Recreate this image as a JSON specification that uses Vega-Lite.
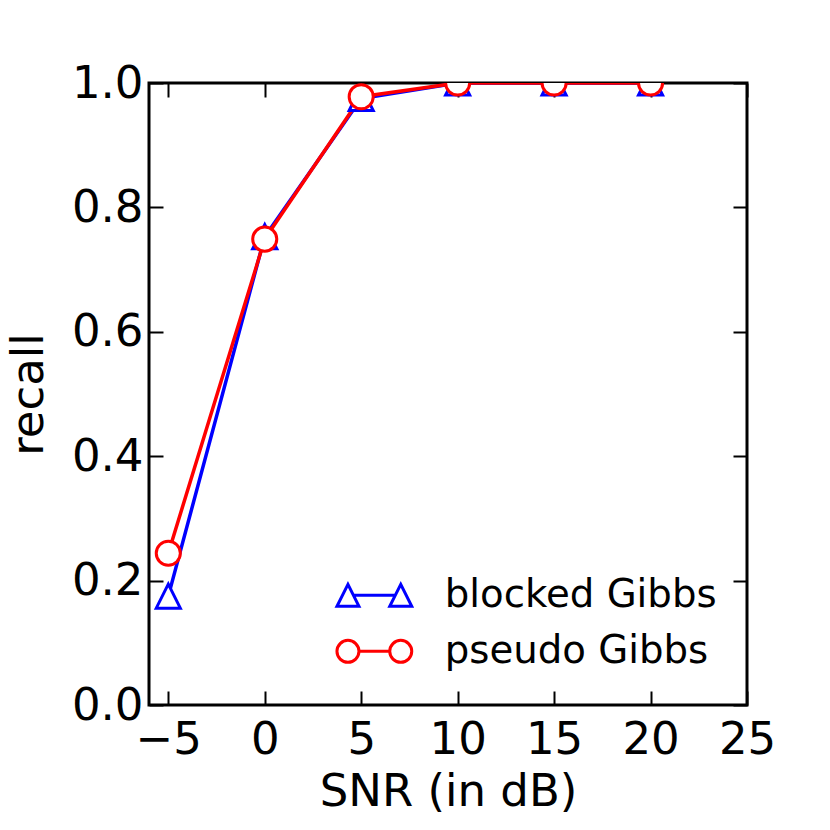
{
  "$schema": "https://vega.github.io/schema/vega-lite/v6.json",
  "description": "Recall against SNR for blocked Gibbs and pseudo Gibbs samplers.",
  "background": "white",
  "autosize": "none",
  "padding": {"left": 149, "top": 83, "right": 83, "bottom": 125},
  "width": 598,
  "height": 622,
  "config": {
    "font": "DejaVu Sans",
    "view": {"stroke": "black", "strokeWidth": 3},
    "axis": {
      "grid": false,
      "domain": false,
      "tickColor": "black",
      "tickWidth": 2,
      "tickSize": -14,
      "labelFont": "DejaVu Sans",
      "labelFontSize": 45,
      "labelColor": "black",
      "titleFont": "DejaVu Sans",
      "titleFontSize": 45,
      "titleFontWeight": "normal",
      "titleColor": "black"
    }
  },
  "data": {
    "values": [
      {"snr": -5, "recall": 0.175, "method": "blocked Gibbs"},
      {"snr": 0, "recall": 0.753, "method": "blocked Gibbs"},
      {"snr": 5, "recall": 0.975, "method": "blocked Gibbs"},
      {"snr": 10, "recall": 1.0, "method": "blocked Gibbs"},
      {"snr": 15, "recall": 1.0, "method": "blocked Gibbs"},
      {"snr": 20, "recall": 1.0, "method": "blocked Gibbs"},
      {"snr": -5, "recall": 0.244, "method": "pseudo Gibbs"},
      {"snr": 0, "recall": 0.749, "method": "pseudo Gibbs"},
      {"snr": 5, "recall": 0.978, "method": "pseudo Gibbs"},
      {"snr": 10, "recall": 1.0, "method": "pseudo Gibbs"},
      {"snr": 15, "recall": 1.0, "method": "pseudo Gibbs"},
      {"snr": 20, "recall": 1.0, "method": "pseudo Gibbs"}
    ]
  },
  "layer": [
    {
      "encoding": {
        "x": {
          "field": "snr",
          "type": "quantitative",
          "title": "SNR (in dB)",
          "scale": {"domain": [-6, 25], "nice": false, "zero": false},
          "axis": {"values": [-5, 0, 5, 10, 15, 20, 25], "labelPadding": 26, "titlePadding": 7, "labelFlush": false}
        },
        "y": {
          "field": "recall",
          "type": "quantitative",
          "title": "recall",
          "scale": {"domain": [0, 1], "nice": false},
          "axis": {"values": [0, 0.2, 0.4, 0.6, 0.8, 1.0], "format": ".1f", "labelPadding": 20, "titlePadding": 20, "labelFlush": false}
        },
        "color": {
          "field": "method",
          "type": "nominal",
          "scale": {"domain": ["blocked Gibbs", "pseudo Gibbs"], "range": ["#0000ff", "#ff0000"]},
          "legend": null
        }
      },
      "layer": [
        {
          "mark": {"type": "line", "strokeWidth": 3.5, "clip": true}
        },
        {
          "mark": {"type": "point", "filled": false, "fill": "white", "opacity": 1, "strokeWidth": 3, "size": 580, "clip": true},
          "encoding": {
            "shape": {
              "field": "method",
              "type": "nominal",
              "scale": {"domain": ["blocked Gibbs", "pseudo Gibbs"], "range": ["M0,-1L-1,1L1,1Z", "circle"]},
              "legend": null
            }
          }
        }
      ]
    },
    {
      "mark": {"type": "point", "opacity": 0},
      "encoding": {
        "x": {
          "field": "snr",
          "type": "quantitative",
          "scale": {"domain": [-6, 25], "nice": false, "zero": false},
          "axis": {"orient": "top", "values": [-5, 0, 5, 10, 15, 20, 25], "labels": false, "title": null}
        },
        "y": {
          "field": "recall",
          "type": "quantitative",
          "scale": {"domain": [0, 1], "nice": false},
          "axis": {"orient": "right", "values": [0, 0.2, 0.4, 0.6, 0.8, 1.0], "labels": false, "title": null}
        },
        "color": {
          "field": "method",
          "type": "nominal",
          "scale": {"domain": ["blocked Gibbs", "pseudo Gibbs"], "range": ["#0000ff", "#ff0000"]},
          "legend": {
            "title": null,
            "orient": "none",
            "legendX": 206,
            "legendY": 493,
            "padding": 0,
            "symbolSize": 484,
            "symbolStrokeWidth": 3,
            "symbolFillColor": "white",
            "symbolOpacity": 1,
            "labelFont": "DejaVu Sans",
            "labelFontSize": 38.7,
            "labelColor": "black",
            "labelLimit": 0,
            "labelOffset": 51,
            "rowPadding": 16
          }
        },
        "shape": {
          "field": "method",
          "type": "nominal",
          "scale": {
            "domain": ["blocked Gibbs", "pseudo Gibbs"],
            "range": [
              "M-2.4,-1L-3.4,1L-1.4,1ZM2.4,-1L1.4,1L3.4,1ZM-1.9,0L1.9,0",
              "M-1.4,0A1,1,0,1,1,-3.4,0A1,1,0,1,1,-1.4,0ZM3.4,0A1,1,0,1,1,1.4,0A1,1,0,1,1,3.4,0ZM-1.4,0L1.4,0"
            ]
          }
        }
      }
    }
  ],
  "resolve": {
    "scale": {"x": "independent", "y": "independent", "color": "independent", "shape": "independent"},
    "legend": {"color": "independent", "shape": "independent"}
  }
}
